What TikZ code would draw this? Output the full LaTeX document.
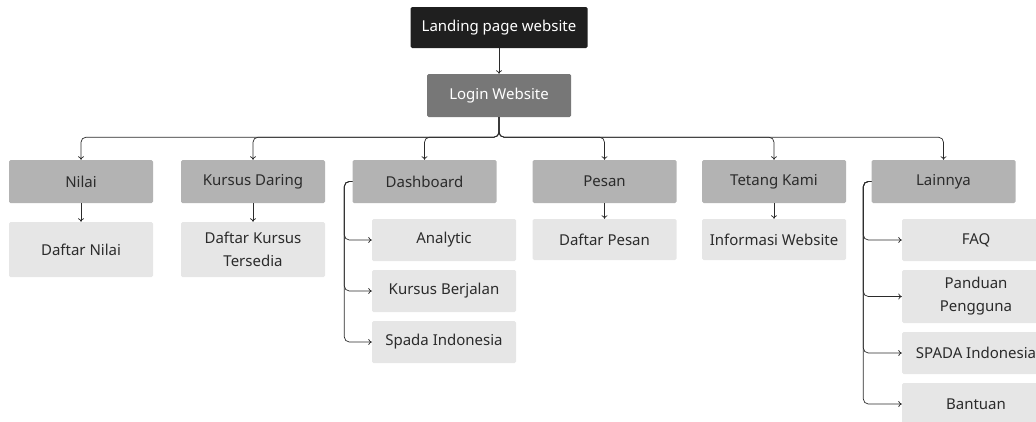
\documentclass[tikz,border=0pt]{standalone}
\usepackage{fontspec}
\setmainfont{Noto Sans}
\usetikzlibrary{arrows.meta}
\definecolor{topbox}{HTML}{1F1F1F}
\definecolor{loginbox}{HTML}{777777}
\definecolor{menubox}{HTML}{B3B3B3}
\definecolor{subbox}{HTML}{E6E6E6}
\definecolor{ink}{HTML}{2B2B2B}
\begin{document}
\begin{tikzpicture}[x=1pt, y=-1pt,
    box/.style = {shape = rectangle, rounded corners = 1.5pt, align = center,
      minimum width = 144pt, inner sep = 0pt, text = ink,
      font = \fontsize{15}{23}\selectfont},
    menu/.style = {box, fill = menubox, minimum height = 43pt},
    sub/.style = {box, fill = subbox, minimum height = 42pt},
    arr/.style = {-{To[length=3.5pt, width=6pt]}, line width = 0.7pt, draw = ink,
      rounded corners = 5pt}]
    \clip (0, 0) rectangle (1036, 421);

    \node (landing) [box, fill = topbox, text = white, minimum width = 177pt,
      minimum height = 41pt] at (499, 27.5) {Landing page website};
    \node (login) [box, fill = loginbox, text = white, minimum height = 43pt]
      at (499, 95.5) {Login Website};

    % menu utama
    \node (nilai)   [menu] at (81, 181.5)    {Nilai};
    \node (daring)  [menu] at (253, 181.5)   {Kursus Daring};
    \node (dash)    [menu] at (424.5, 181.5) {Dashboard};
    \node (pesan)   [menu] at (604.5, 181.5) {Pesan};
    \node (tentang) [menu] at (774, 181.5)   {Tetang Kami};
    \node (lain)    [menu] at (943.5, 181.5) {Lainnya};

    % sub menu
    \node (dnilai)  [sub, minimum height = 55pt] at (81, 249.5)  {Daftar Nilai};
    \node (ddaring) [sub, minimum height = 55pt] at (253, 249.5) {Daftar Kursus\\Tersedia};
    \node (dpesan)  [sub, minimum height = 41pt] at (604.5, 239.5) {Daftar Pesan};
    \node (info)    [sub, minimum height = 41pt] at (774, 239.5) {Informasi Website};

    \node (analytic) [sub] at (444, 240) {Analytic};
    \node (berjalan) [sub] at (444, 291) {Kursus Berjalan};
    \node (spada)    [sub] at (444, 342) {Spada Indonesia};

    \node (faq)     [sub, minimum width = 148pt] at (976, 240) {FAQ};
    \node (panduan) [sub, minimum width = 148pt, minimum height = 53pt]
      at (976, 296.5) {Panduan\\Pengguna};
    \node (spadab)  [sub, minimum width = 148pt] at (976, 353) {SPADA Indonesia};
    \node (bantuan) [sub, minimum width = 148pt] at (976, 404) {Bantuan};

    \draw [arr] (landing) -- (login);
    \foreach \m in {nilai, daring, dash, pesan, tentang, lain}
      \draw [arr] (login.south) -- ++(0, 20) -| (\m.north);

    \draw [arr] (nilai) -- (dnilai);
    \draw [arr] (daring) -- (ddaring);
    \draw [arr] (pesan) -- (dpesan);
    \draw [arr] (tentang) -- (info);

    \foreach \s in {analytic, berjalan, spada}
      \draw [arr] (dash.west) -- ++(-8, 0) |- (\s.west);
    \foreach \s in {faq, panduan, spadab, bantuan}
      \draw [arr] (lain.west) -- ++(-8, 0) |- (\s.west);
  \end{tikzpicture}
\end{document}
